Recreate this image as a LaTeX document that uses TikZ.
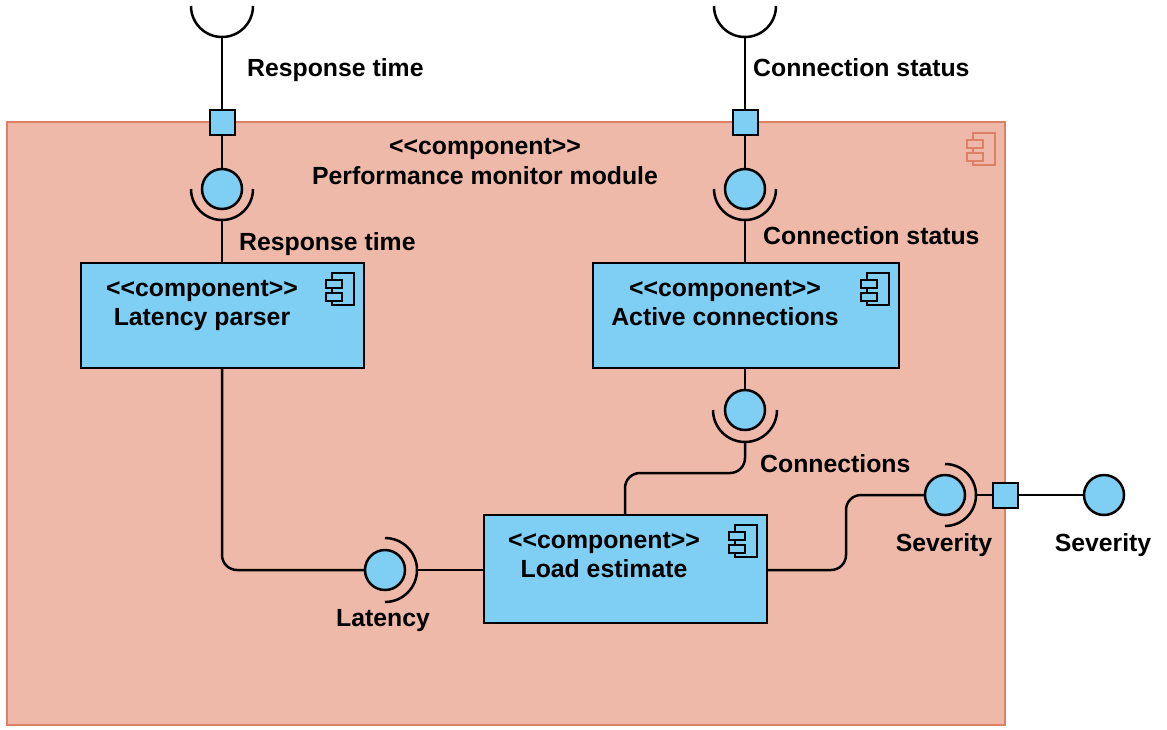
\documentclass[tikz,border=0pt]{standalone}
\usepackage{fontspec}
\setmainfont{Liberation Sans}
\usetikzlibrary{calc}
\definecolor{modfill}{RGB}{238,185,169}
\definecolor{modline}{RGB}{222,128,104}
\definecolor{compfill}{RGB}{126,207,243}
\tikzset{
  wire/.style={line width=2.5pt, draw=black},
  socket/.style={line width=2.5pt, draw=black},
  module/.style={rectangle, draw=modline, line width=2pt, fill=modfill, inner sep=0},
  comp/.style={rectangle, draw=black, line width=2.2pt, fill=compfill, inner sep=0},
  ball/.style={circle, draw=black, line width=2.5pt, fill=compfill, minimum size=40pt, inner sep=0},
  port/.style={rectangle, draw=black, line width=2pt, fill=compfill, minimum size=25pt, inner sep=0},
  lbl/.style={font=\fontsize{24.8}{29}\selectfont\bfseries, inner sep=0},
  pics/compicon/.style 2 args={code={
    \draw[draw=#1, line width=1.8pt] (-22,0) rectangle (0,-32);
    \filldraw[draw=#1, fill=#2, line width=1.8pt] (-28,-7) rectangle (-12,-15);
    \filldraw[draw=#1, fill=#2, line width=1.8pt] (-28,-20) rectangle (-12,-28);
  }}
}
\begin{document}
\begin{tikzpicture}[x=1pt,y=1pt]
\useasboundingbox (0,0) rectangle (1167,-729);

% enclosing module
\node[module, minimum width=998pt, minimum height=603pt] (mod) at (506,-423.5) {};
\pic at (995,-133) {compicon={modline}{modfill}};
\node[lbl, anchor=base] (modA) at (485,-154.5) {<{}<component>{}>};
\node[lbl, anchor=base] (modB) at (485,-184.5) {Performance monitor module};

% inner components
\node[comp, minimum width=283pt, minimum height=105pt] (lp) at (222.5,-315.5) {};
\node[comp, minimum width=306pt, minimum height=105pt] (ac) at (746,-315.5) {};
\node[comp, minimum width=283pt, minimum height=108pt] (le) at (625.5,-569) {};

% ports, balls and socket points
\node[port] (pA) at (222,-122) {};
\node[port] (pB) at (745,-122) {};
\node[port] (pS) at (1005,-495) {};
\coordinate (tA) at (222,-37);
\coordinate (tB) at (745,-37);
\coordinate (sA) at (222,-220);
\coordinate (sB) at (745,-220);
\coordinate (sC) at (745,-442);
\coordinate (sL) at (417,-570);
\coordinate (sS) at (976,-495);
\coordinate (kC) at (625,-473);

% wires
\draw[wire] (tA) -- (pA);
\draw[wire] (pA) -- (222,-189);
\draw[wire] (sA) -- (sA |- lp.north);
\draw[wire] (tB) -- (pB);
\draw[wire] (pB) -- (745,-189);
\draw[wire] (sB) -- (sB |- ac.north);
\draw[wire] (ac.south -| sC) -- (745,-410);
\draw[wire, rounded corners=15pt] (sC) |- (kC) -- (kC |- le.north);
\draw[wire, rounded corners=15pt] (lp.south -| sA) |- (385,-570);
\draw[wire] (sL) -- (le.west |- sL);
\draw[wire, rounded corners=15pt] (le.east |- sL) -- (846,-570) -- (846,-495) -- (945,-495);
\draw[wire] (sS) -- (pS);
\draw[wire] (pS) -- (1104,-495);

% sockets
\draw[socket] (191,-6) arc[start angle=180, end angle=360, radius=31pt];
\draw[socket] (714,-6) arc[start angle=180, end angle=360, radius=31pt];
\draw[socket] (191,-189) arc[start angle=180, end angle=360, radius=31pt];
\draw[socket] (714,-189) arc[start angle=180, end angle=360, radius=31pt];
\draw[socket] (713,-410) arc[start angle=180, end angle=360, radius=32pt];
\draw[socket] (385,-538) arc[start angle=90, end angle=-90, radius=32pt];
\draw[socket] (945,-464) arc[start angle=90, end angle=-90, radius=31pt];

% provided interfaces
\node[ball] (bA) at (222,-189) {};
\node[ball] (bB) at (745,-189) {};
\node[ball] (bC) at (745,-410) {};
\node[ball] (bL) at (385,-570) {};
\node[ball] (bS) at (945,-495) {};
\node[ball] (bX) at (1104,-495) {};
\node[port] at (pA) {};
\node[port] at (pB) {};
\node[port] at (pS) {};

% component labels and icons
\node[lbl, anchor=base] (lpA) at (202,-296.5) {<{}<component>{}>};
\node[lbl, anchor=base] (lpB) at (202,-325.5) {Latency parser};
\pic at (354,-273) {compicon={black}{compfill}};
\node[lbl, anchor=base] (acA) at (725,-296.5) {<{}<component>{}>};
\node[lbl, anchor=base] (acB) at (725,-325.5) {Active connections};
\pic at (889,-273) {compicon={black}{compfill}};
\node[lbl, anchor=base] (leA) at (604,-548.5) {<{}<component>{}>};
\node[lbl, anchor=base] (leB) at (604,-577.5) {Load estimate};
\pic at (757,-525) {compicon={black}{compfill}};

% interface labels
\node[lbl, anchor=base west] (rtA) at (247,-76.5) {Response time};
\node[lbl, anchor=base west] (csA) at (753,-76.5) {Connection status};
\node[lbl, anchor=base west] (rtB) at (239,-250.5) {Response time};
\node[lbl, anchor=base west] (csB) at (763,-244.5) {Connection status};
\node[lbl, anchor=base west] (cn) at (760,-472.5) {Connections};
\node[lbl, anchor=base] (lt) at (383,-626.5) {Latency};
\node[lbl, anchor=base] (svA) at (944,-551.5) {Severity};
\node[lbl, anchor=base] (svB) at (1103,-551.5) {Severity};
\end{tikzpicture}
\end{document}
